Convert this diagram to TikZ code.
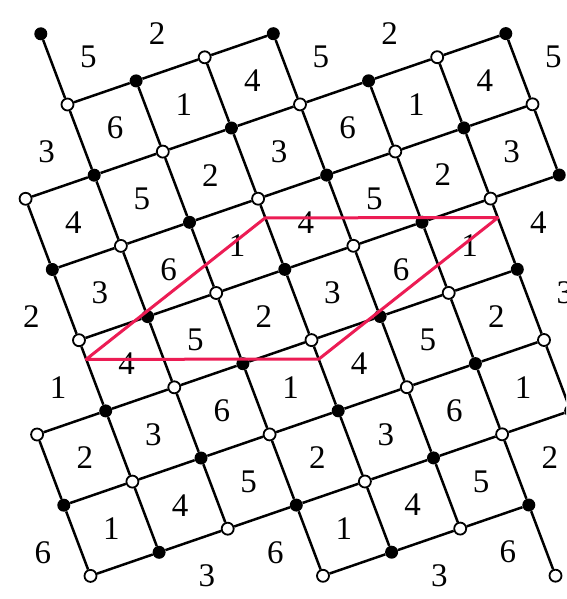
\documentclass[tikz,border=0pt]{standalone}
\usepackage{fontspec}
\setmainfont{Liberation Serif}
\definecolor{redline}{RGB}{236,28,84}
\begin{document}
\begin{tikzpicture}[x={(68.6pt,23.6pt)}, y={(26.7pt,-70.7pt)},
  edge/.style={line width=2.5pt, draw=black},
  bv/.style={circle, fill=black, inner sep=0pt, minimum size=13pt},
  wv/.style={circle, draw=black, fill=white, line width=1.8pt, inner sep=0pt, minimum size=12pt},
  lab/.style={font=\fontsize{33}{33}\selectfont, inner sep=0pt},
  cutline/.style={draw=redline, line width=3pt, line join=round}]
\useasboundingbox (-67.5pt,104.5pt) rectangle (498.5pt,-494.5pt);
\clip (-67.5pt,104.5pt) rectangle (498.5pt,-494.5pt);
% vertices
\foreach \j/\a/\b in {-1/0/0, 0/0/3, 1/-1/6, 2/-1/6, 3/-1/6, 4/-2/5, 5/-2/5, 6/-2/5, 7/1/4, 8/4/4} {
  \foreach \i in {\a,...,\b} {
    \pgfmathtruncatemacro\pp{mod(\i+\j+100,2)}
    \ifnum\pp=0
      \node[wv] (v\i x\j) at (\i,\j) {};
    \else
      \node[bv] (v\i x\j) at (\i,\j) {};
    \fi
  }
}
% edges along u
\foreach \j/\a/\b in {0/0/2, 1/-1/5, 2/-1/5, 3/-1/5, 4/-2/4, 5/-2/4, 6/-2/4, 7/1/3} {
  \foreach \i in {\a,...,\b} {
    \pgfmathtruncatemacro\k{\i+1}
    \draw[edge] (v\i x\j) -- (v\k x\j);
  }
}
% edges along v
\foreach \j/\a/\b in {-1/0/0, 0/0/3, 1/-1/6, 2/-1/6, 3/-1/5, 4/-2/5, 5/-2/5, 6/1/4, 7/4/4} {
  \foreach \i in {\a,...,\b} {
    \pgfmathtruncatemacro\k{\j+1}
    \draw[edge] (v\i x\j) -- (v\i x\k);
  }
}
% labels
\foreach \i/\j/\t in {0/-1/5, 1/-1/2,
  -1/0/3, 0/0/6, 1/0/1, 2/0/4, 3/0/5, 4/0/2,
  -1/1/4, 0/1/5, 1/1/2, 2/1/3, 3/1/6, 4/1/1, 5/1/4, 6/1/5,
  -2/2/2, -1/2/3, 0/2/6, 1/2/1, 2/2/4, 3/2/5, 4/2/2, 5/2/3,
  -2/3/1, -1/3/4, 0/3/5, 1/3/2, 2/3/3, 3/3/6, 4/3/1, 5/3/4,
  -2/4/2, -1/4/3, 0/4/6, 1/4/1, 2/4/4, 3/4/5, 4/4/2, 5/4/3,
  -3/5/6, -2/5/1, -1/5/4, 0/5/5, 1/5/2, 2/5/3, 3/5/6, 4/5/1,
  -1/6/3, 0/6/6, 1/6/1, 2/6/4, 3/6/5, 4/6/2,
  2/7/3, 3/7/6} {
  \node[lab] (l\i x\j) at (\i+0.5,\j+0.5) {\t};
}
% red parallelogram
\coordinate (pA) at (-1,3.27);
\coordinate (pB) at (2,2.27);
\coordinate (pC) at (5,3.27);
\coordinate (pD) at (2,4.27);
\draw[cutline] (pA) -- (pB) -- (pC) -- (pD) -- cycle;
\end{tikzpicture}
\end{document}
